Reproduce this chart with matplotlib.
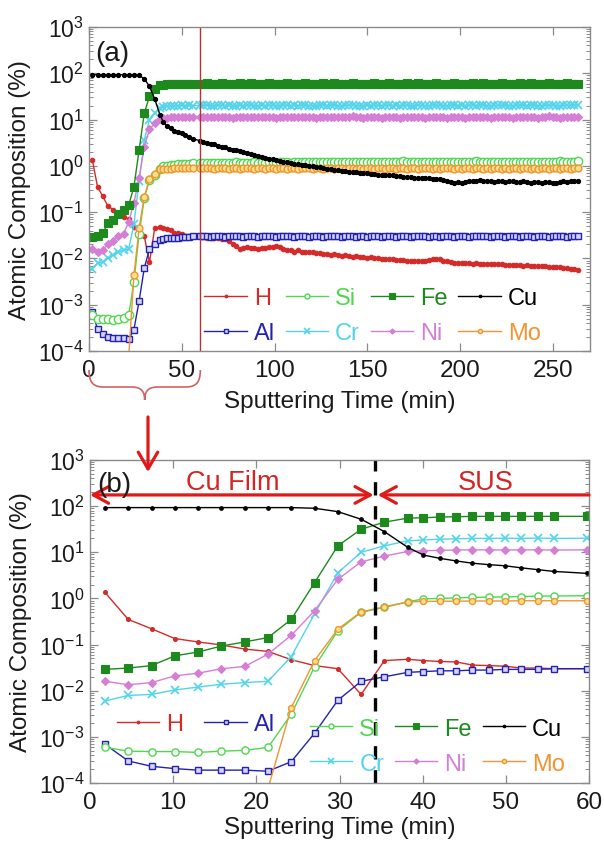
import numpy as np
import matplotlib
matplotlib.use("Agg")
import matplotlib.pyplot as plt
from matplotlib.path import Path
from matplotlib.patches import PathPatch, FancyArrowPatch
import matplotlib.transforms as mtrans
from matplotlib.ticker import LogLocator, LogFormatterSciNotation, NullFormatter, MultipleLocator

plt.rcParams['font.family'] = ['Liberation Sans', 'DejaVu Sans']
plt.rcParams['mathtext.fontset'] = 'custom'
plt.rcParams['mathtext.rm'] = 'Liberation Sans'
plt.rcParams['mathtext.it'] = 'Liberation Sans:italic'
plt.rcParams['mathtext.bf'] = 'Liberation Sans:bold'

nan = np.nan

# ---------------- data ----------------
t_early = [1.8, 4.6, 7.4, 10.2, 13.0, 15.8, 18.6, 21.4, 24.2, 27.0, 29.8, 32.6, 35.4, 38.2]
# later acquisitions every ~1.96 min from 40.1 to 263.5 (one scan missing at 57.7)
t_late = np.delete(np.round(40.1 + 1.96 * np.arange(115), 2), 9)
time = np.concatenate([t_early, t_late])

H_early = [1.35, 0.35, 0.22, 0.135, 0.114, 0.098, 0.080, 0.071, 0.047, 0.035, 0.030, 0.0083, 0.045, 0.048]
H_late = [0.045, 0.043, 0.042, 0.036, 0.035, 0.034, 0.031, 0.031, 0.030, 0.030,
          0.029, 0.028, 0.028, 0.027, 0.027, 0.026, 0.026, 0.024, 0.021, 0.019,
          0.016, 0.017, 0.018, 0.017, 0.017, 0.016, 0.017, 0.017, 0.018, 0.018,
          0.019, 0.018, 0.016, 0.015, 0.015, 0.014, 0.015, 0.014, 0.014, 0.0135,
          0.0135, 0.013, 0.0128, 0.0125, 0.0124, 0.012, 0.0122, 0.0118, 0.0115, 0.0116,
          0.0113, 0.011, 0.0112, 0.0108, 0.0105, 0.0104, 0.0106, 0.0102, 0.010, 0.0099,
          0.0098, 0.0096, 0.0097, 0.0094, 0.0092, 0.0093, 0.009, 0.0089, 0.0088, 0.0087,
          0.0086, 0.0088, 0.0092, 0.0096, 0.0098, 0.0095, 0.009, 0.0086, 0.0083, 0.0081,
          0.008, 0.0079, 0.0081, 0.0078, 0.0077, 0.0078, 0.0076, 0.0077, 0.0075, 0.0076,
          0.0075, 0.0074, 0.0075, 0.0073, 0.0072, 0.0073, 0.0071, 0.0072, 0.007, 0.0071,
          0.0069, 0.007, 0.0068, 0.0067, 0.0068, 0.0066, 0.0065, 0.0066, 0.0064, 0.0063,
          0.0062, 0.006, 0.0059, 0.0057]

Cu_early = [93, 93, 93, 93, 93, 93, 93, 93, 93, 90, 76, 52, 28, 12.8]
Cu_late = [8.7, 7.4, 6.5, 5.8, 5.4, 5.1, 4.6, 4.2, 3.85, 3.5,
           3.3, 3.15, 3.0, 2.9, 2.75, 2.6, 2.5, 2.35, 2.25, 2.15,
           2.05, 1.98, 1.9, 1.82, 1.72, 1.66, 1.58, 1.5, 1.44, 1.38,
           1.32, 1.28, 1.24, 1.2, 1.15, 1.12, 1.08, 1.05, 1.02, 1.0,
           0.98, 0.95, 0.93, 0.9, 0.87, 0.85, 0.83, 0.8, 0.79, 0.77,
           0.75, 0.74, 0.72, 0.71, 0.70, 0.69, 0.68, 0.66, 0.65, 0.64,
           0.63, 0.62, 0.62, 0.6, 0.59, 0.58, 0.57, 0.57, 0.56, 0.55,
           0.55, 0.56, 0.54, 0.53, 0.52, 0.52, 0.5, 0.48, 0.45, 0.43,
           0.44, 0.42, 0.45, 0.47, 0.46, 0.48, 0.49, 0.47, 0.48, 0.46,
           0.45, 0.47, 0.46, 0.44, 0.46, 0.47, 0.45, 0.44, 0.46, 0.45,
           0.43, 0.45, 0.44, 0.42, 0.44, 0.45, 0.43, 0.42, 0.44, 0.46,
           0.45, 0.47, 0.46, 0.48]

Fe_early = [0.029, 0.031, 0.035, 0.057, 0.069, 0.093, 0.114, 0.142, 0.35, 2.2, 13.8, 31.6, 45, 55]
Fe_late = [56, 58, 59, 60, 60, 60, 60, 60, 60, 60,
           60, 61, 60, 59, 60, 61, 60, 60, 59, 60, 61, 60, 60,
           61, 60, 59, 60, 60, 61, 60, 59, 60, 60, 61, 60, 60,
           59, 60, 61, 60, 60, 59, 60, 61, 60, 60, 61, 60, 59,
           60, 60, 61, 60, 60, 59, 60, 60, 61, 60, 59, 60, 61,
           60, 60, 59, 60, 61, 60, 60, 61, 60, 59, 60, 60, 61,
           60, 60, 59, 60, 61, 60, 60, 59, 60, 61, 60, 60, 61,
           60, 59, 60, 60, 61, 60, 60, 59, 60, 61, 60, 60, 61,
           60, 59, 60, 60, 61, 60, 60, 59, 60, 61, 60, 60, 59]

Cr_early = [0.006, 0.0079, 0.0083, 0.0104, 0.012, 0.0138, 0.015, 0.016, 0.055, 0.46, 3.6, 10, 13.8, 17.7]
Cr_late = [18.5, 19.2, 19.6, 20, 20, 20.2, 20, 20.3, 20, 20.2,
           20.2, 20.5, 20.1, 19.8, 20.3, 20.6, 20.0, 20.2, 19.7, 20.1, 20.4, 20.0, 20.3,
           20.6, 20.1, 19.8, 20.2, 20.0, 20.5, 20.2, 19.9, 20.1, 20.4, 20.6, 20.0, 20.2,
           19.8, 20.3, 20.5, 20.1, 20.0, 19.7, 20.2, 20.6, 20.1, 20.3, 20.5, 20.0, 19.9,
           20.2, 20.4, 20.7, 20.1, 20.0, 19.8, 20.3, 20.1, 20.6, 20.2, 19.9, 20.3, 20.5,
           20.1, 20.3, 19.8, 20.2, 20.6, 20.1, 20.0, 20.5, 20.2, 19.8, 20.1, 20.3, 20.7,
           20.2, 20.0, 19.8, 20.3, 20.6, 20.1, 20.2, 19.9, 20.4, 20.6, 20.1, 20.2, 20.5,
           20.1, 19.8, 20.2, 20.3, 20.7, 20.2, 20.0, 19.9, 20.3, 20.6, 20.2, 20.1, 20.5,
           20.2, 19.9, 20.1, 20.4, 20.8, 20.3, 20.1, 19.8, 20.2, 20.6, 20.3, 20.4, 21.0]

Ni_early = [0.016, 0.0135, 0.015, 0.021, 0.024, 0.030, 0.0335, 0.062, 0.159, 0.54, 2.6, 6.2, 8.3, 10.4]
Ni_late = [10.8, 11.0, 11.2, 11.3, 11.3, 11.2, 11.3, 11.3, 11.2, 11.3,
           11.3, 11.5, 11.2, 11.1, 11.4, 11.6, 11.3, 11.2, 11.0, 11.3, 11.5, 11.2, 11.4,
           11.6, 11.3, 11.1, 11.4, 11.2, 11.5, 11.3, 11.0, 11.2, 11.4, 11.6, 11.2, 11.3,
           11.1, 11.4, 11.5, 11.2, 11.3, 11.0, 11.3, 11.6, 11.2, 11.4, 11.5, 11.1, 11.2,
           11.3, 11.5, 11.7, 11.2, 11.1, 11.0, 11.4, 11.2, 11.6, 11.3, 11.0, 11.3, 11.5,
           11.2, 11.4, 11.0, 11.3, 11.6, 11.2, 11.1, 11.5, 11.3, 10.9, 11.2, 11.4, 11.6,
           11.3, 11.1, 10.9, 11.3, 11.5, 11.2, 11.3, 11.0, 11.4, 11.6, 11.2, 11.3, 11.5,
           11.2, 10.9, 11.3, 11.4, 11.6, 11.2, 11.1, 11.0, 11.3, 11.5, 11.2, 11.1, 11.4,
           11.3, 11.0, 11.2, 11.4, 11.7, 11.3, 11.1, 10.9, 11.2, 11.5, 11.3, 11.4, 11.6]

Si_early = [5.9e-4, 4.9e-4, 4.8e-4, 4.8e-4, 4.6e-4, 4.9e-4, 5.1e-4, 5.9e-4, 3.1e-3, 0.033, 0.20, 0.50, 0.64, 0.84]
Si_late = [0.98, 1.0, 1.03, 1.05, 1.07, 1.08, 1.1, 1.12, 1.13, 1.14,
           1.15, 1.16, 1.14, 1.17, 1.16, 1.18, 1.15, 1.17, 1.16, 1.19, 1.17, 1.18, 1.16,
           1.18, 1.2, 1.17, 1.19, 1.18, 1.21, 1.19, 1.17, 1.2, 1.22, 1.19, 1.18, 1.2,
           1.21, 1.19, 1.2, 1.23, 1.2, 1.19, 1.21, 1.22, 1.2, 1.24, 1.21, 1.2, 1.22,
           1.2, 1.23, 1.21, 1.19, 1.22, 1.24, 1.21, 1.2, 1.23, 1.22, 1.2, 1.21, 1.23,
           1.22, 1.2, 1.23, 1.25, 1.22, 1.21, 1.23, 1.2, 1.22, 1.24, 1.21, 1.22, 1.23,
           1.21, 1.23, 1.2, 1.22, 1.24, 1.21, 1.23, 1.22, 1.2, 1.23, 1.25, 1.22, 1.21,
           1.23, 1.21, 1.22, 1.24, 1.21, 1.2, 1.23, 1.22, 1.24, 1.21, 1.23, 1.22, 1.2,
           1.22, 1.24, 1.21, 1.23, 1.22, 1.2, 1.23, 1.25, 1.22, 1.21, 1.24, 1.23, 1.25]

Mo_early = [nan, nan, nan, nan, nan, nan, nan, 7.5e-5, 4.3e-3, 0.045, 0.216, 0.51, 0.66, 0.84]
Mo_late = [0.86, 0.87, 0.87, 0.88, 0.88, 0.88, 0.89, 0.89, 0.89, 0.89,
           0.89, 0.88, 0.9, 0.87, 0.89, 0.88, 0.91, 0.87, 0.88, 0.9, 0.86, 0.89, 0.88,
           0.9, 0.87, 0.89, 0.88, 0.86, 0.9, 0.88, 0.87, 0.91, 0.89, 0.86, 0.88, 0.9,
           0.87, 0.89, 0.88, 0.9, 0.86, 0.88, 0.91, 0.87, 0.89, 0.88, 0.86, 0.9, 0.88,
           0.87, 0.89, 0.9, 0.86, 0.88, 0.87, 0.9, 0.89, 0.86, 0.88, 0.91, 0.87, 0.88,
           0.9, 0.86, 0.88, 0.89, 0.87, 0.9, 0.88, 0.86, 0.89, 0.88, 0.91, 0.87, 0.88,
           0.86, 0.89, 0.88, 0.9, 0.87, 0.88, 0.86, 0.9, 0.89, 0.87, 0.88, 0.91, 0.87,
           0.88, 0.86, 0.89, 0.9, 0.87, 0.88, 0.86, 0.89, 0.91, 0.87, 0.88, 0.9, 0.86,
           0.89, 0.87, 0.88, 0.9, 0.86, 0.88, 0.89, 0.87, 0.9, 0.88, 0.86, 0.89, 0.9]

Al_early = [6.9e-4, 3.0e-4, 2.3e-4, 2.05e-4, 1.9e-4, 1.9e-4, 1.9e-4, 1.8e-4, 2.9e-4, 1.2e-3, 6.2e-3, 0.016, 0.020, 0.025]
Al_late = [0.026, 0.027, 0.027, 0.028, 0.028, 0.029, 0.029, 0.029, 0.030, 0.030,
           0.030, 0.031, 0.029, 0.030, 0.031, 0.030, 0.029, 0.031, 0.030, 0.030, 0.031, 0.029, 0.030,
           0.031, 0.030, 0.029, 0.030, 0.031, 0.030, 0.030, 0.029, 0.031, 0.030, 0.031, 0.030, 0.029,
           0.030, 0.031, 0.030, 0.029, 0.030, 0.031, 0.030, 0.029, 0.030, 0.031, 0.030, 0.030, 0.029,
           0.031, 0.030, 0.030, 0.029, 0.031, 0.030, 0.029, 0.030, 0.031, 0.030, 0.029, 0.030, 0.031,
           0.030, 0.029, 0.030, 0.031, 0.030, 0.029, 0.030, 0.031, 0.030, 0.030, 0.029, 0.031, 0.030,
           0.029, 0.030, 0.031, 0.030, 0.029, 0.030, 0.031, 0.030, 0.029, 0.030, 0.030, 0.031, 0.030,
           0.030, 0.029, 0.031, 0.030, 0.030, 0.029, 0.030, 0.031, 0.030, 0.029, 0.030, 0.031, 0.030,
           0.029, 0.030, 0.031, 0.030, 0.029, 0.030, 0.031, 0.030, 0.030, 0.029, 0.030, 0.031, 0.030]

series = {
    'H': H_early + H_late, 'Al': Al_early + Al_late, 'Si': Si_early + Si_late,
    'Fe': Fe_early + Fe_late, 'Cu': Cu_early + Cu_late, 'Cr': Cr_early + Cr_late,
    'Ni': Ni_early + Ni_late, 'Mo': Mo_early + Mo_late,
}
for k, v in series.items():
    assert len(v) == len(time), (k, len(v), len(time))

styles = {
    'H':  dict(color='#d42a2a', marker='o', ms=2.8, mfc='#d42a2a', mew=0.8),
    'Al': dict(color='#2323b0', marker='s', ms=3.8, mfc='#d4d4f4', mew=1.0),
    'Si': dict(color='#4fd84f', marker='o', ms=5.2, mfc='white', mew=1.0),
    'Fe': dict(color='#1d8a1d', marker='s', ms=5.2, mfc='#1d8a1d', mew=0.8),
    'Cu': dict(color='black', marker='o', ms=2.6, mfc='black', mew=0.8),
    'Cr': dict(color='#52d4ea', marker='x', ms=5.2, mfc='#52d4ea', mew=1.2),
    'Ni': dict(color='#d57ed5', marker='D', ms=3.8, mfc='#d57ed5', mew=0.8),
    'Mo': dict(color='#f39331', marker='o', ms=4.3, mfc='#fbe08a', mew=1.0),
}
draw_order = ['H', 'Al', 'Si', 'Mo', 'Cr', 'Ni', 'Fe', 'Cu']

W, Hh = 604, 845
fig = plt.figure(figsize=(W / 100, Hh / 100), dpi=100)
ax_a = fig.add_axes([89 / W, 1 - 352 / Hh, 501 / W, 324 / Hh])
ax_b = fig.add_axes([90 / W, 1 - 784 / Hh, 499 / W, 323 / Hh])

spine_c = '#8a8a8a'
txt_c = '#1a1a1a'

def style_axis(ax, xmax, xstep, xlabelpad):
    ax.set_yscale('log')
    ax.set_ylim(1e-4, 1e3)
    ax.set_xlim(0, xmax)
    ax.xaxis.set_major_locator(MultipleLocator(xstep))
    ax.yaxis.set_major_locator(LogLocator(base=10, numticks=20))
    ax.yaxis.set_minor_locator(LogLocator(base=10, subs=np.arange(2, 10), numticks=20))
    ax.yaxis.set_major_formatter(LogFormatterSciNotation())
    ax.yaxis.set_minor_formatter(NullFormatter())
    for s in ax.spines.values():
        s.set_color(spine_c)
        s.set_linewidth(1.0)
    ax.tick_params(which='both', direction='in', top=True, right=True, color=spine_c)
    ax.tick_params(which='major', length=6, width=0.9)
    ax.tick_params(which='minor', length=3, width=0.7)
    ax.tick_params(axis='x', labelsize=17.5, labelcolor=txt_c, pad=6)
    ax.tick_params(axis='y', labelsize=16.5, labelcolor=txt_c, pad=4)
    ax.set_xlabel('Sputtering Time (min)', fontsize=17.5, color=txt_c, labelpad=xlabelpad)
    ax.set_ylabel('Atomic Composition (%)', fontsize=17.5, color=txt_c, labelpad=5)

lines_a, lines_b = {}, {}
for name in draw_order:
    st = dict(styles[name])
    lines_b[name], = ax_b.plot(time, series[name], lw=1.0, label=name, mec=st['color'], **st)
    st['ms'] = st['ms'] * 1.15
    lines_a[name], = ax_a.plot(time, series[name], lw=1.0, label=name, mec=st['color'], **st)

style_axis(ax_a, 270, 50, 6)
style_axis(ax_b, 60, 10, 2)

# ---- panel (a) extras ----
ax_a.axvline(60, color='#b83030', lw=1.0)
ax_a.text(0.012, 0.96, '(a)', transform=ax_a.transAxes, fontsize=20, ha='left', va='top', color=txt_c)
order_a = ['H', 'Al', 'Si', 'Cr', 'Fe', 'Ni', 'Cu', 'Mo']
leg_kw = dict(frameon=False, fontsize=17, labelcolor='linecolor', handlelength=1.8,
              handletextpad=0.3, labelspacing=0.55, borderpad=0.2, markerscale=0.7)
ax_a.legend([lines_b[n] for n in order_a], order_a, ncol=4, loc='lower right',
            bbox_to_anchor=(0.935, -0.03), columnspacing=0.45, **leg_kw)

# ---- panel (b) extras ----
x_int = 34.3
ax_b.axvline(x_int, color='black', lw=2.4, ls=(0, (4, 3.2)))
arrow_y = 175
red = '#e01818'
ax_b.annotate('', xy=(0, arrow_y), xytext=(x_int - 0.2, arrow_y), annotation_clip=False,
              arrowprops=dict(arrowstyle='<->,head_length=0.55,head_width=0.3', color=red, lw=2.3,
                              shrinkA=0, shrinkB=0, mutation_scale=20))
ax_b.annotate('', xy=(x_int + 0.3, arrow_y), xytext=(60, arrow_y), annotation_clip=False,
              arrowprops=dict(arrowstyle='->,head_length=0.55,head_width=0.3', color=red, lw=2.3,
                              shrinkA=0, shrinkB=0, mutation_scale=20))
ax_b.text(17.2, 330, 'Cu Film', ha='center', va='center', fontsize=19.5, color='#d42424')
ax_b.text(47.6, 330, 'SUS', ha='center', va='center', fontsize=19.5, color='#d42424')
ax_b.text(0.015, 0.965, '(b)', transform=ax_b.transAxes, fontsize=20, ha='left', va='top', color=txt_c)

leg2_order = ['Si', 'Cr', 'Fe', 'Ni', 'Cu', 'Mo']
leg2 = ax_b.legend([lines_b[n] for n in leg2_order], leg2_order, ncol=3, loc='lower right',
                   bbox_to_anchor=(0.985, -0.025), columnspacing=0.45, **leg_kw)
ax_b.add_artist(leg2)
leg1 = ax_b.legend([lines_b[n] for n in ['H', 'Al']], ['H', 'Al'], ncol=2, loc='center left',
                   bbox_to_anchor=(0.02, 0.183), columnspacing=0.9, **leg_kw)

# ---- brace under panel (a) spanning 0-60 min, and arrow to panel (b) ----
tr = mtrans.blended_transform_factory(ax_a.transData, fig.transFigure)
def fy(px):
    return 1 - px / Hh
verts = [(0, fy(371)), (0, fy(384)), (2.5, fy(388)), (8, fy(388)),
         (23, fy(388)), (28.5, fy(388)), (30, fy(393)), (30, fy(401)),
         (30, fy(393)), (31.5, fy(388)), (37, fy(388)),
         (52, fy(388)), (57.5, fy(388)), (60, fy(384)), (60, fy(371))]
codes = [Path.MOVETO, Path.CURVE4, Path.CURVE4, Path.CURVE4,
         Path.LINETO, Path.CURVE4, Path.CURVE4, Path.CURVE4,
         Path.CURVE4, Path.CURVE4, Path.CURVE4,
         Path.LINETO, Path.CURVE4, Path.CURVE4, Path.CURVE4]
brace = PathPatch(Path(verts, codes), transform=tr, fill=False, edgecolor='#d06464', lw=1.2, clip_on=False)
fig.add_artist(brace)

down = FancyArrowPatch((148 / W, fy(418)), (148 / W, fy(473)), transform=fig.transFigure,
                       arrowstyle='->,head_length=0.6,head_width=0.35', mutation_scale=20,
                       color=red, lw=2.3, shrinkA=0, shrinkB=0)
fig.add_artist(down)

fig.savefig('out.png', dpi=100)
